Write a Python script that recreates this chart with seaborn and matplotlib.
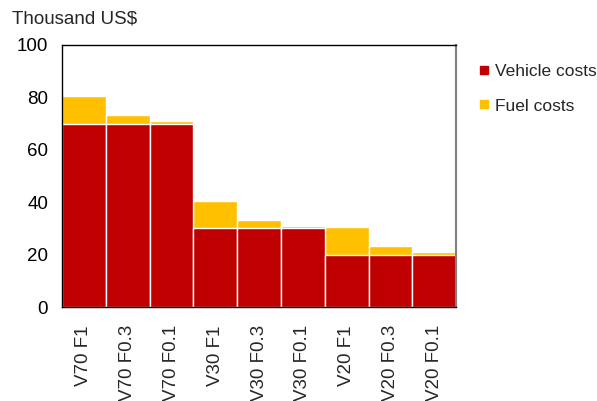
import matplotlib
matplotlib.use("Agg")
import matplotlib.pyplot as plt
from matplotlib.lines import Line2D
import numpy as np
import pandas as pd
import seaborn as sns

categories = ["V70 F1", "V70 F0.3", "V70 F0.1",
              "V30 F1", "V30 F0.3", "V30 F0.1",
              "V20 F1", "V20 F0.3", "V20 F0.1"]
vehicle_costs = [70, 70, 70, 30, 30, 30, 20, 20, 20]
fuel_costs = [10.6, 3.2, 1.0, 10.6, 3.2, 1.0, 10.6, 3.2, 1.0]
y_ticks = [0, 20, 40, 60, 80, 100]

sns.set_theme(style="white")
plt.rcParams["font.family"] = ["Liberation Sans", "DejaVu Sans"]

df = pd.DataFrame({
    "scenario": categories,
    "vehicle": vehicle_costs,
    "fuel": fuel_costs,
})
df["total"] = df["vehicle"] + df["fuel"]

fig = plt.figure(figsize=(5.97, 4.01), dpi=100)
ax = fig.add_axes([0.104, 0.234, 0.66, 0.654])

red = "#C00000"
yellow = "#FFC000"

# stacked bars: total height in yellow, vehicle part in red on top of it
sns.barplot(data=df, x="scenario", y="total", color=yellow, saturation=1,
            width=1.0, edgecolor="white", linewidth=1.0, ax=ax)
sns.barplot(data=df, x="scenario", y="vehicle", color=red, saturation=1,
            width=1.0, edgecolor="white", linewidth=1.0, ax=ax)

ax.set_xlim(-0.5, len(categories) - 0.5)
ax.set_ylim(0, 100)
ax.set_yticks(y_ticks)
ax.set_xlabel("")
ax.set_ylabel("")
ax.tick_params(axis="y", direction="in", length=5, width=1, colors="black",
               labelsize=13.5, pad=10, labelcolor="black")
ax.tick_params(axis="x", which="major", length=0, labelsize=13.5, pad=13,
               labelrotation=90)
ax.set_xticks(np.arange(-0.5, len(categories) + 0.5, 1), minor=True)
ax.tick_params(axis="x", which="minor", direction="in", length=3, width=1,
               colors="black")

for side in ["left", "bottom", "top"]:
    ax.spines[side].set_color("black")
    ax.spines[side].set_linewidth(1)
ax.spines["right"].set_color("#808080")
ax.spines["right"].set_linewidth(1.5)

fig.text(0.02, 0.953, "Thousand US$", fontsize=13.5, ha="left", va="center")

handles = [
    Line2D([], [], marker="s", linestyle="", markersize=5.5,
           markerfacecolor=red, markeredgecolor=red, label="Vehicle costs"),
    Line2D([], [], marker="s", linestyle="", markersize=5.5,
           markerfacecolor=yellow, markeredgecolor=yellow, label="Fuel costs"),
]
fig.legend(handles=handles, loc="upper left", bbox_to_anchor=(0.795, 0.853),
           frameon=False, fontsize=12.5, handlelength=0.45, handletextpad=0.4,
           labelspacing=1.1, borderpad=0.3, borderaxespad=0.0)

fig.savefig("out.png", dpi=100)
